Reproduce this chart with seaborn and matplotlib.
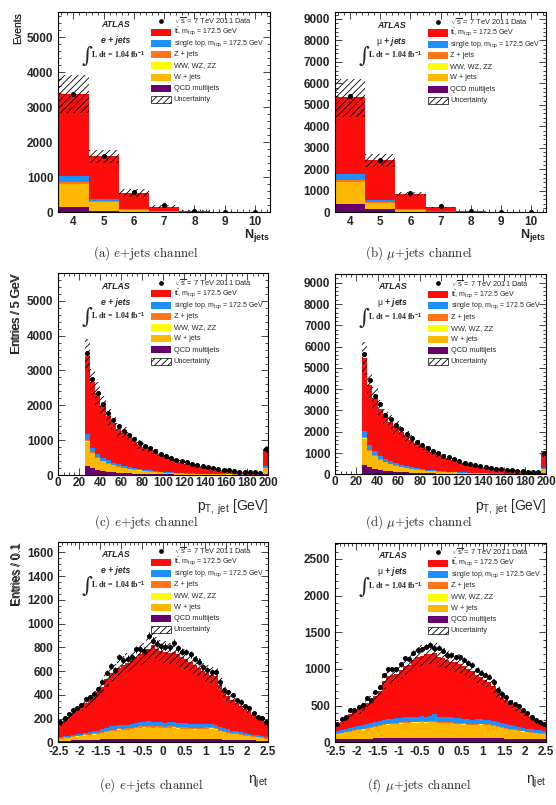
import numpy as np
import pandas as pd
import matplotlib
matplotlib.use("Agg")
import matplotlib.pyplot as plt
import seaborn as sns
from matplotlib.patches import Rectangle
from matplotlib.ticker import MultipleLocator, FuncFormatter

# ------------------------------------------------------------------ data
procs = ["ttbar", "stop", "Z", "diboson", "W", "QCD"]

# N_jets
njet_bins = [4, 5, 6, 7, 8, 9, 10]
e_nj_ttbar = [2330, 1240, 460, 135, 40, 11, 3.5]
e_nj_stop = [180, 60, 20, 6, 2, 0.5, 0.2]
e_nj_Z = [60, 25, 8, 3, 1, 0.3, 0.1]
e_nj_dib = [10, 5, 2, 0.5, 0.1, 0, 0]
e_nj_W = [640, 235, 60, 17, 5, 1.5, 0.5]
e_nj_QCD = [160, 45, 10, 3, 1, 0.3, 0.1]
e_nj_data = [3370, 1620, 570, 215, 50, 12, 3]
e_nj_unc_hi = [3910, 1770, 667, 195, 60, 16, 5]
e_nj_unc_lo = [2850, 1400, 448, 135, 38, 9, 2]

m_nj_ttbar = [3570, 1870, 680, 180, 50, 13, 4]
m_nj_stop = [296, 95, 30, 8, 2, 0.5, 0.2]
m_nj_Z = [75, 35, 10, 3, 1, 0.3, 0.1]
m_nj_dib = [15, 5, 2, 0.5, 0.1, 0, 0]
m_nj_W = [1010, 290, 90, 25, 7, 2, 0.5]
m_nj_QCD = [390, 150, 30, 8, 2, 0.5, 0.2]
m_nj_data = [5435, 2440, 915, 310, 75, 18, 5]
m_nj_unc_hi = [6227, 2700, 950, 260, 75, 20, 6]
m_nj_unc_lo = [4457, 2130, 700, 180, 45, 10, 3]

# jet pT (5 GeV bins from 25 to 200, last bin incl. overflow)
pt_edges = list(range(25, 205, 5))
e_pt_total = [3430, 2670, 2340, 1980, 1680, 1480, 1310, 1220, 1095, 960, 880, 800, 720, 650, 585,
              520, 460, 410, 370, 330, 290, 258, 228, 200, 176, 155, 137, 120, 106, 94, 84, 75, 68, 62, 730]
e_pt_data = [3500, 2760, 2360, 2050, 1770, 1580, 1410, 1270, 1150, 1030, 910, 840, 770, 680, 610,
             550, 490, 440, 400, 360, 320, 280, 250, 220, 190, 170, 150, 130, 115, 100, 90, 80, 72, 65, 760]
e_pt_QCD = [260, 190, 150, 120, 100, 85, 70, 58, 48, 42, 36, 31, 27, 23, 20, 17, 15, 13, 11, 10,
            8, 7, 6, 5, 5, 4, 4, 3, 3, 3, 2, 2, 2, 2, 40]
e_pt_Z = [40, 30, 25, 20, 17, 14, 12, 10, 9, 8, 7, 6, 5, 5, 4, 4, 3, 3, 3, 2,
          2, 2, 2, 2, 1, 1, 1, 1, 1, 1, 1, 1, 1, 1, 10]
e_pt_dib = [8, 6, 5, 4, 3, 3, 3, 2, 2, 2, 2, 2, 1, 1, 1, 1, 1, 1, 1, 1,
            1, 1, 1, 0.5, 0.5, 0.5, 0.5, 0.5, 0.5, 0.5, 0.5, 0.5, 0.5, 0.5, 5]
e_pt_W = [700, 440, 330, 270, 225, 190, 165, 140, 122, 106, 93, 82, 72, 63, 55, 48, 42, 37, 33, 29,
          26, 23, 20, 18, 16, 14, 12, 11, 10, 9, 8, 7, 6, 6, 150]
e_pt_stop = [170, 120, 100, 85, 72, 62, 54, 47, 41, 36, 32, 28, 25, 22, 20, 18, 16, 14, 13, 11,
             10, 9, 8, 7, 6, 5, 5, 4, 4, 4, 3, 3, 3, 3, 40]

m_pt_total = [5450, 4190, 3600, 3050, 2700, 2450, 2200, 2000, 1800, 1620, 1460, 1310, 1180, 1060, 950,
              850, 760, 680, 600, 535, 475, 420, 375, 335, 297, 262, 232, 207, 183, 162, 143, 128, 114, 102, 950]
m_pt_data = [5640, 4440, 3700, 3300, 2800, 2600, 2300, 2120, 1880, 1700, 1520, 1370, 1230, 1100, 990,
             880, 790, 700, 620, 550, 490, 430, 380, 340, 300, 265, 235, 210, 185, 165, 145, 130, 115, 105, 980]
m_pt_QCD = [430, 320, 260, 210, 175, 145, 122, 103, 88, 76, 65, 57, 49, 43, 37, 32, 28, 24, 21, 18,
            16, 14, 12, 11, 10, 9, 8, 7, 6, 5, 5, 4, 4, 3, 40]
m_pt_Z = [60, 45, 37, 30, 25, 21, 18, 15, 13, 11, 10, 9, 8, 7, 6, 5, 5, 4, 4, 3,
          3, 3, 2, 2, 2, 2, 2, 1, 1, 1, 1, 1, 1, 1, 12]
m_pt_dib = [12, 9, 7, 6, 5, 4, 4, 3, 3, 3, 2, 2, 2, 2, 2, 1, 1, 1, 1, 1,
            1, 1, 1, 1, 0.5, 0.5, 0.5, 0.5, 0.5, 0.5, 0.5, 0.5, 0.5, 0.5, 6]
m_pt_W = [1250, 780, 600, 470, 390, 330, 280, 240, 205, 177, 155, 135, 118, 103, 90, 79, 69, 61, 54, 47,
          41, 36, 32, 28, 25, 22, 20, 18, 16, 14, 12, 11, 10, 9, 200]
m_pt_stop = [280, 220, 180, 150, 125, 108, 93, 80, 70, 61, 54, 47, 42, 37, 33, 29, 26, 23, 20, 18,
             16, 14, 12, 11, 10, 9, 8, 7, 6, 5, 5, 4, 4, 3, 50]

# jet eta (0.1 bins from -2.5 to 2.5)
eta_edges = [round(v, 2) for v in np.linspace(-2.5, 2.5, 51)]
e_eta_data = [175, 205, 240, 272, 290, 315, 362, 380, 410, 446,
              511, 587, 643, 610, 716, 693, 705, 721, 783, 783,
              772, 896, 857, 830, 810, 806, 800, 839, 791, 763,
              760, 741, 700, 680, 638, 610, 595, 590, 511, 441,
              420, 399, 357, 343, 306, 285, 250, 216, 202, 174]
e_eta_total = [160, 185, 215, 245, 270, 300, 330, 355, 385, 420,
               470, 530, 580, 590, 630, 650, 670, 690, 720, 740,
               750, 790, 820, 790, 770, 760, 750, 760, 740, 720,
               700, 680, 650, 630, 600, 580, 570, 560, 480, 420,
               390, 360, 330, 310, 280, 260, 230, 200, 190, 160]
e_eta_QCD = [12, 14, 15, 16, 18, 18, 20, 20, 22, 22, 24, 24, 26, 25, 26, 27, 27, 28, 28, 28,
             29, 29, 30, 29, 28, 29, 30, 29, 28, 28, 28, 27, 27, 26, 26, 25, 25, 24, 24, 22,
             22, 21, 20, 19, 18, 17, 16, 15, 14, 12]
e_eta_Z = [5, 6, 6, 7, 7, 8, 8, 8, 9, 9, 10, 10, 10, 10, 11, 11, 11, 11, 12, 12,
           12, 12, 12, 12, 12, 12, 12, 12, 12, 12, 11, 11, 11, 11, 10, 10, 10, 10, 9, 9,
           9, 8, 8, 8, 7, 7, 6, 6, 6, 5]
e_eta_dib = [1, 1, 1, 1, 1, 1, 2, 2, 2, 2, 2, 2, 2, 2, 2, 2, 2, 2, 2, 2,
             2, 2, 2, 2, 2, 2, 2, 2, 2, 2, 2, 2, 2, 2, 2, 2, 2, 2, 2, 2,
             2, 2, 2, 2, 1, 1, 1, 1, 1, 1]
e_eta_W = [18, 20, 24, 28, 30, 32, 36, 40, 42, 46, 52, 62, 68, 70, 80, 75, 78, 82, 90, 92,
           95, 98, 92, 96, 92, 88, 90, 95, 88, 84, 86, 82, 80, 82, 84, 88, 90, 82, 72, 64,
           56, 50, 46, 42, 38, 34, 30, 26, 22, 18]
e_eta_stop = [8, 9, 10, 12, 13, 14, 15, 17, 18, 20, 22, 25, 28, 28, 30, 30, 31, 32, 33, 34,
              35, 36, 36, 36, 35, 35, 36, 36, 35, 34, 33, 33, 32, 31, 30, 30, 29, 28, 25, 22,
              20, 18, 17, 15, 14, 13, 12, 10, 9, 8]

m_eta_data = [250, 313, 350, 441, 441, 480, 509, 600, 577, 691,
              759, 918, 996, 996, 996, 1064, 1146, 1132, 1223, 1259,
              1268, 1305, 1327, 1282, 1290, 1250, 1191, 1190, 1159, 1159,
              1123, 1087, 1055, 987, 950, 918, 896, 828, 714, 659,
              623, 555, 520, 496, 441, 395, 341, 305, 280, 250]
m_eta_total = [235, 280, 325, 390, 410, 445, 480, 540, 560, 630,
               700, 830, 900, 920, 930, 980, 1040, 1060, 1120, 1160,
               1180, 1200, 1210, 1220, 1160, 1150, 1120, 1100, 1090, 1070,
               1040, 1000, 970, 920, 890, 850, 820, 770, 680, 620,
               580, 530, 490, 460, 410, 370, 330, 290, 260, 230]
m_eta_QCD = [40, 42, 44, 45, 46, 48, 48, 50, 50, 52, 52, 54, 55, 55, 55, 56, 56, 56, 57, 57,
             57, 57, 58, 58, 58, 58, 57, 57, 57, 57, 56, 56, 56, 55, 55, 55, 54, 54, 52, 52,
             50, 50, 48, 48, 46, 45, 44, 43, 42, 40]
m_eta_Z = [8, 8, 9, 9, 10, 10, 10, 11, 11, 11, 12, 12, 12, 12, 13, 13, 13, 13, 13, 13,
           13, 13, 13, 13, 13, 13, 13, 13, 13, 13, 13, 13, 13, 13, 12, 12, 12, 12, 11, 11,
           11, 10, 10, 10, 9, 9, 9, 8, 8, 8]
m_eta_dib = [2, 2, 2, 2, 2, 2, 3, 3, 3, 3, 3, 3, 3, 3, 3, 3, 3, 3, 3, 3,
             3, 3, 3, 3, 3, 3, 3, 3, 3, 3, 3, 3, 3, 3, 3, 3, 3, 3, 3, 3,
             3, 3, 3, 3, 2, 2, 2, 2, 2, 2]
m_eta_W = [70, 80, 90, 100, 110, 115, 125, 135, 140, 150, 165, 180, 185, 190, 195, 200, 205, 205, 210, 210,
           215, 210, 215, 220, 205, 200, 205, 200, 195, 190, 185, 180, 175, 180, 185, 180, 175, 165, 150, 140,
           130, 120, 115, 105, 100, 90, 85, 80, 75, 70]
m_eta_stop = [35, 38, 40, 44, 46, 48, 50, 52, 54, 56, 58, 60, 62, 63, 64, 65, 66, 66, 67, 67,
              68, 68, 68, 90, 68, 67, 67, 66, 66, 65, 64, 63, 62, 61, 60, 59, 58, 56, 54, 52,
              50, 48, 46, 44, 42, 40, 39, 38, 36, 35]

pt_unc_rel = 0.14
eta_unc_rel = 0.12

# ------------------------------------------------------------------ style
sns.set_style("ticks")
plt.rcParams.update({
    "font.family": ["Liberation Sans", "DejaVu Sans"],
    "mathtext.fontset": "custom",
    "mathtext.rm": "Liberation Sans",
    "mathtext.it": "Liberation Sans:italic",
    "mathtext.bf": "Liberation Sans:bold",
    "axes.unicode_minus": False,
    "hatch.linewidth": 0.6,
    "axes.linewidth": 0.8,
    "axes.edgecolor": "black",
})

pal = {"ttbar": "#FF0D0D", "stop": "#1F8FFF", "Z": "#FF7518", "diboson": "#FFFF00",
       "W": "#FFB800", "QCD": "#66006B"}
leg_labels = {
    "ttbar": r"$\mathrm{t\bar{t}}$, m$_{\mathrm{top}}$ = 172.5 GeV",
    "stop": r"single top, m$_{\mathrm{top}}$ = 172.5 GeV",
    "Z": "Z + jets",
    "diboson": "WW, WZ, ZZ",
    "W": "W + jets",
    "QCD": "QCD multijets",
}
leg_sizes = {"ttbar": 5.0, "stop": 5.0, "Z": 5.3, "diboson": 5.3, "W": 5.3, "QCD": 5.3}

W_PX, H_PX = 556, 805
fig = plt.figure(figsize=(W_PX / 100, H_PX / 100), dpi=100)
fig.patch.set_facecolor("white")
all_axes = []


def add_ax(l, t, r, b):
    ax = fig.add_axes([l / W_PX, 1 - b / H_PX, (r - l) / W_PX, (b - t) / H_PX])
    ax._pxbox = (l, t, r, b)
    all_axes.append(ax)
    return ax


def draw_panel(ax, edges, comps, data, lo, hi):
    e = np.asarray(edges, float)
    centers = 0.5 * (e[:-1] + e[1:])
    rows = []
    for p in procs:
        for c, v in zip(centers, comps[p]):
            rows.append((c, float(v), p))
    df = pd.DataFrame(rows, columns=["x", "w", "proc"])
    sns.histplot(data=df, x="x", weights="w", hue="proc", hue_order=procs, palette=pal,
                 multiple="stack", bins=list(e), element="step", fill=True, alpha=1,
                 linewidth=0, legend=False, ax=ax)
    lo = np.asarray(lo, float)
    hi = np.asarray(hi, float)
    ax.fill_between(e, np.append(lo, lo[-1]), np.append(hi, hi[-1]), step="post",
                    facecolor="none", edgecolor="black", linewidth=0, hatch="/////", zorder=3)
    data = np.asarray(data, float)
    ax.errorbar(centers, data, yerr=np.sqrt(data), fmt="o", color="black", ms=2.6,
                elinewidth=0.7, capsize=0, zorder=5)


def decorate(ax, chan_tex, xlabel, xlab_off, ylabel, ylab_size, xlim, ylim, xmaj, xmin, ymaj, ymin,
             xlab_pad, xlab_size):
    l, t, r, b = ax._pxbox
    w, h = r - l, b - t
    ax.set_xlim(*xlim)
    ax.set_ylim(*ylim)
    ax.xaxis.set_major_locator(MultipleLocator(xmaj))
    ax.xaxis.set_minor_locator(MultipleLocator(xmin))
    ax.yaxis.set_major_locator(MultipleLocator(ymaj))
    ax.yaxis.set_minor_locator(MultipleLocator(ymin))
    ax.xaxis.set_major_formatter(FuncFormatter(lambda v, pos: "%g" % v))
    ax.tick_params(which="both", direction="in", top=True, right=True, labelsize=8.5)
    ax.tick_params(which="major", length=5, width=0.6)
    ax.tick_params(which="minor", length=2.5, width=0.6)
    ax.tick_params(axis="y", pad=3.5)
    ax.tick_params(axis="x", pad=xlab_pad)
    for s in ax.spines.values():
        s.set_visible(True)
        s.set_linewidth(0.8)
    ax.set_ylabel(ylabel, loc="top", fontsize=ylab_size)
    ax.yaxis.set_label_coords((23.5 - l) / w, 1.0)
    ax.set_xlabel(xlabel, loc="right", fontsize=xlab_size)
    ax.xaxis.set_label_coords(1.0, -xlab_off / h)

    fx = lambda px: px / w
    fy = lambda py: 1 - py / h
    # ATLAS block
    ax.text(fx(57), fy(12.7), "ATLAS", fontsize=6.3, fontweight="bold", fontstyle="italic",
            ha="center", va="center", transform=ax.transAxes)
    ax.text(fx(57), fy(28.7), chan_tex, fontsize=6.2, fontweight="bold", fontstyle="italic",
            ha="center", va="center", transform=ax.transAxes)
    ax.text(fx(28.5), fy(44), "\u222b", family="DejaVu Serif", fontsize=15,
            ha="center", va="center", transform=ax.transAxes)
    ax.text(fx(32.5), fy(43.5), r"L dt = 1.04 fb$^{\mathbf{-1}}$", family="Liberation Serif",
            fontweight="bold", fontsize=5.8, ha="left", va="center", transform=ax.transAxes)
    # legend
    xb, bw, bh, xt, y0, dy = 92.5, 20, 7, 115.5, 9.5, 11.2
    ax.plot([fx(xb + bw / 2)], [fy(y0)], "o", ms=2.4, color="black",
            transform=ax.transAxes, clip_on=False)
    ax.text(fx(xt), fy(y0), r"$\sqrt{\mathrm{s}}$ = 7 TeV 2011 Data", fontsize=5.4,
            ha="left", va="center", transform=ax.transAxes)
    for i, p in enumerate(procs):
        yc = y0 + dy * (i + 1)
        ax.add_patch(Rectangle((fx(xb), fy(yc + bh / 2)), bw / w, bh / h, transform=ax.transAxes,
                               facecolor=pal[p], edgecolor="none", clip_on=False))
        ax.text(fx(xt), fy(yc), leg_labels[p], fontsize=leg_sizes[p], ha="left", va="center",
                transform=ax.transAxes)
    yc = y0 + dy * 7
    ax.add_patch(Rectangle((fx(xb), fy(yc + bh / 2)), bw / w, bh / h, transform=ax.transAxes,
                           facecolor="white", edgecolor="black", linewidth=0.5, hatch="/////",
                           clip_on=False))
    ax.text(fx(xt), fy(yc), "Uncertainty", fontsize=5.3, ha="left", va="center",
            transform=ax.transAxes)


def caption(x, y, s):
    fig.text(x / W_PX, 1 - y / H_PX, s, family="cmr10", math_fontfamily="cm", fontsize=9.3,
             ha="center", va="center")


def comps_from(total, qcd, z, dib, w, stop):
    tt = np.asarray(total, float) - (np.asarray(qcd, float) + np.asarray(z, float)
                                     + np.asarray(dib, float) + np.asarray(w, float)
                                     + np.asarray(stop, float))
    return {"ttbar": tt, "stop": stop, "Z": z, "diboson": dib, "W": w, "QCD": qcd}


E_LAB = "e + jets"
M_LAB = r"$\mathrm{\mu}$ + jets"
NJ_LAB = r"$\mathbf{N_{jets}}$"
PT_LAB = r"p$_{\mathrm{T,\ jet}}$ [GeV]"
ETA_LAB = r"$\mathrm{\eta}_{\mathrm{jet}}$"

nj_edges = [v - 0.5 for v in njet_bins] + [njet_bins[-1] + 0.5]

# (a)
ax = add_ax(58.3, 11.7, 270, 212.3)
draw_panel(ax, nj_edges, {"ttbar": e_nj_ttbar, "stop": e_nj_stop, "Z": e_nj_Z, "diboson": e_nj_dib,
                          "W": e_nj_W, "QCD": e_nj_QCD}, e_nj_data, e_nj_unc_lo, e_nj_unc_hi)
decorate(ax, E_LAB, NJ_LAB, 15, "Events", 7.5, (3.5, 10.5), (0, 5730), 1, 0.2, 1000, 200, 2.5, 9)
caption(146, 253.5, r"(a) $e$+jets channel")

# (b)
ax = add_ax(335, 12.3, 546.3, 212.3)
draw_panel(ax, nj_edges, {"ttbar": m_nj_ttbar, "stop": m_nj_stop, "Z": m_nj_Z, "diboson": m_nj_dib,
                          "W": m_nj_W, "QCD": m_nj_QCD}, m_nj_data, m_nj_unc_lo, m_nj_unc_hi)
decorate(ax, M_LAB, NJ_LAB, 15, "Events", 7.5, (3.5, 10.5), (0, 9310), 1, 0.2, 1000, 200, 2.5, 9)
caption(419, 253.5, r"(b) $\mu$+jets channel")

# (c)
ax = add_ax(58.3, 273.3, 268.3, 475)
tot = np.asarray(e_pt_total, float)
draw_panel(ax, pt_edges, comps_from(e_pt_total, e_pt_QCD, e_pt_Z, e_pt_dib, e_pt_W, e_pt_stop),
           e_pt_data, tot * (1 - pt_unc_rel), tot * (1 + pt_unc_rel))
decorate(ax, E_LAB, PT_LAB, 23, "Entries / 5 GeV", 8.5, (0, 200), (0, 5790), 20, 5, 1000, 200, 1.5, 10)
caption(146, 522, r"(c) $e$+jets channel")

# (d)
ax = add_ax(335.3, 274, 546.3, 474.3)
tot = np.asarray(m_pt_total, float)
draw_panel(ax, pt_edges, comps_from(m_pt_total, m_pt_QCD, m_pt_Z, m_pt_dib, m_pt_W, m_pt_stop),
           m_pt_data, tot * (1 - pt_unc_rel), tot * (1 + pt_unc_rel))
decorate(ax, M_LAB, PT_LAB, 23, "Entries / 5 GeV", 8.5, (0, 200), (0, 9410), 20, 5, 1000, 200, 1.5, 10)
caption(419, 522, r"(d) $\mu$+jets channel")

# (e)
ax = add_ax(58.3, 541.7, 268.3, 742.3)
tot = np.asarray(e_eta_total, float)
draw_panel(ax, eta_edges, comps_from(e_eta_total, e_eta_QCD, e_eta_Z, e_eta_dib, e_eta_W, e_eta_stop),
           e_eta_data, tot * (1 - eta_unc_rel), tot * (1 + eta_unc_rel))
decorate(ax, E_LAB, ETA_LAB, 31, "Entries / 0.1", 8.5, (-2.5, 2.5), (0, 1690), 0.5, 0.1, 200, 50, 3, 10)
caption(151, 785, r"(e) $e$+jets channel")

# (f)
ax = add_ax(335.3, 542.7, 546.3, 742.3)
tot = np.asarray(m_eta_total, float)
draw_panel(ax, eta_edges, comps_from(m_eta_total, m_eta_QCD, m_eta_Z, m_eta_dib, m_eta_W, m_eta_stop),
           m_eta_data, tot * (1 - eta_unc_rel), tot * (1 + eta_unc_rel))
decorate(ax, M_LAB, ETA_LAB, 31, "Entries / 0.1", 8.5, (-2.5, 2.5), (0, 2720), 0.5, 0.1, 500, 100, 3, 10)
caption(419, 785, r"(f) $\mu$+jets channel")

# bold tick labels (after ticks are final)
fig.canvas.draw()
for a in all_axes:
    for lab in a.xaxis.get_majorticklabels() + a.yaxis.get_majorticklabels():
        lab.set_fontweight("bold")

fig.savefig("out.png", dpi=100, facecolor="white")
